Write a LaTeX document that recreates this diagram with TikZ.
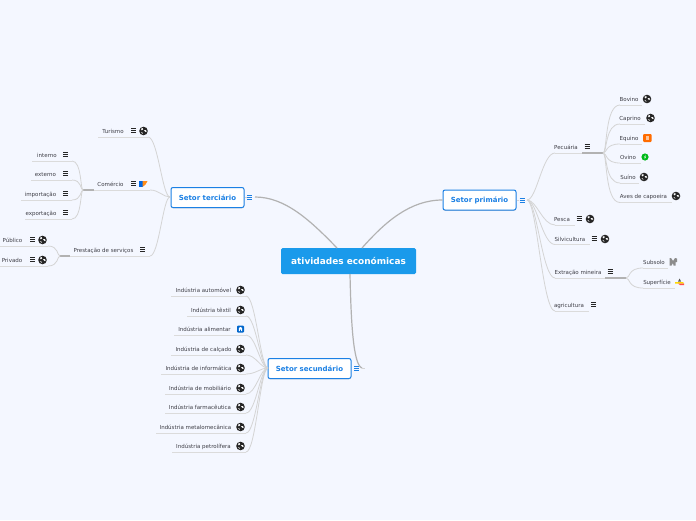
\documentclass[tikz,border=0pt]{standalone}
\usepackage{fontspec}
\setmainfont{DejaVu Sans}
\usetikzlibrary{calc,shadows}
\definecolor{paper}{HTML}{F4F7FF}
\definecolor{rootblue}{HTML}{1A9AEB}
\definecolor{boxblue}{HTML}{1B80E4}
\definecolor{leafgrey}{HTML}{3E3E46}
\tikzset{
  rootbox/.style={fill=rootblue,text=white,rounded corners=1.5pt,minimum width=135pt,minimum height=26pt,inner sep=0pt,font=\fontsize{8.95}{10}\selectfont\bfseries},
  sectorbox/.style={draw=boxblue,line width=1pt,fill=white,text=boxblue,rounded corners=2pt,minimum height=20pt,inner sep=0pt,font=\fontsize{7}{8}\selectfont\bfseries,drop shadow={shadow xshift=0pt,shadow yshift=-.8pt,opacity=.35}},
  leaf/.style={text=leafgrey,inner sep=0pt,yshift=-.5pt,font=\fontsize{5.5}{6}\selectfont},
  mainlink/.style={draw=black!30,line width=1.2pt},
  link/.style={draw=black!17,line width=.8pt},
  rule/.style={draw=black!14,line width=.8pt},
  stub/.style={draw=black!30,line width=1.2pt},
  pics/globeicon/.style={code={
    \fill[black!85] (0,0) circle(4.3pt);
    \fill[white] (-2.6,-2.2) .. controls (-1,-3.6) and (.3,-3) .. (-.4,-1.5) .. controls (-1,-.4) and (-2.8,-.2) .. cycle;
    \fill[white] (.6,-.8) .. controls (2,-1.4) and (3.2,-.6) .. (3.3,.6) .. controls (2.4,1.4) and (1,.8) .. cycle;
    \fill[white] (-2.4,1.2) .. controls (-1.4,.8) and (-.6,1.6) .. (-.6,3) .. controls (-1.6,3) and (-2.2,2.2) .. cycle;
  }},
  pics/menuicon/.style={code={
    \foreach \k in {-1.9,0,1.9} \draw[line width=.8pt,pic actions] (-2.5,\k)--(2.5,\k);
  }},
}
% text, centre, baseline level, rule ends
\newcommand{\leafnode}[6]{%
  \node[leaf] (#1) at (#3,#4) {#2};
  \coordinate (#1-a) at (#5,#4+6);
  \coordinate (#1-b) at (#6,#4+6);
  \draw[rule] (#1-a)--(#1-b);
}
\begin{document}
\begin{tikzpicture}[x=1pt,y=-1pt]
\useasboundingbox (0,0) rectangle (696,520);
\fill[paper] (0,0) rectangle (696,520);

\node[rootbox] (root) at (348.5,261) {atividades económicas};
\node[sectorbox,minimum width=73pt] (primario) at (479.5,200) {Setor primário};
\node[sectorbox,minimum width=73pt] (terciario) at (207.5,197.5) {Setor terciário};
\node[sectorbox,minimum width=83pt] (secundario) at (309.5,368.5) {Setor secundário};
\coordinate (root-p) at (362,248);
\coordinate (root-t) at (337,248);
\coordinate (root-s) at (350,274);
\coordinate (primario-out) at (527,200);
\coordinate (terciario-out) at (255,197);
\coordinate (terciario-in) at (170,197);
\coordinate (secundario-out) at (362,368);
\coordinate (secundario-in) at (268,368);

\draw[mainlink] (root-p) .. controls (385,222) and (410,200) .. (primario.west);
\draw[mainlink] (root-t) .. controls (310,220) and (285,197) .. (terciario-out);
\draw[mainlink] (root-s) .. controls (351,320) and (353,365) .. (secundario-out);
\draw[link] (secundario-out)--++(3,0);
\draw[link] (primario.east)--++(2.5,0);
\draw[link] (terciario.east)--++(2,0);

% primario
\leafnode{pecuaria}{Pecuária}{566}{147}{555}{603}
\leafnode{bovino}{Bovino}{629}{99}{620}{642}
\leafnode{caprino}{Caprino}{630}{118}{620}{645}
\leafnode{equino}{Equino}{629}{138}{620}{642}
\leafnode{ovino}{Ovino}{628}{157}{620}{641}
\leafnode{suino}{Suíno}{628}{177}{620}{639}
\leafnode{aves}{Aves de capoeira}{643.5}{196.5}{620}{672}
\leafnode{pesca}{Pesca}{562}{219}{555}{575}
\leafnode{silvicultura}{Silvicultura}{570}{238.5}{555}{590}
\leafnode{extracao}{Extração mineira}{578}{272}{555}{626}
\leafnode{subsolo}{Subsolo}{654}{262}{643}{668}
\leafnode{superficie}{Superfície}{657}{282}{643}{675}
\leafnode{agricultura}{agricultura}{569}{305}{555}{589}
% terciario
\leafnode{turismo}{Turismo}{113}{131}{98}{148}
\leafnode{comercio}{Comércio}{110.5}{184}{83}{150}
\leafnode{interno}{interno}{47}{155}{32}{72}
\leafnode{externo}{externo}{45.5}{174}{31}{72}
\leafnode{importacao}{importação}{40.5}{194}{21}{72}
\leafnode{exportacao}{exportação}{41}{213}{25}{72}
\leafnode{prestacao}{Prestação de serviços}{103.5}{250}{60}{150}
\leafnode{publico}{Público}{12.5}{240}{0}{48}
\leafnode{privado}{Privado}{12}{260}{0}{48}
% secundario
\leafnode{automovel}{Indústria automóvel}{203.5}{290}{171}{246}
\leafnode{textil}{Indústria têxtil}{211}{310}{187}{246}
\leafnode{alimentar}{Indústria alimentar}{204.5}{329}{174}{246}
\leafnode{calcado}{Indústria de calçado}{203.5}{349}{171}{246}
\leafnode{informatica}{Indústria de informática}{198.5}{368}{161}{246}
\leafnode{mobiliario}{Indústria de mobiliário}{200}{388}{165}{246}
\leafnode{farmaceutica}{Indústria farmacêutica}{200}{407}{165}{246}
\leafnode{metalo}{Indústria metalomecânica}{195.5}{427}{156}{246}
\leafnode{petrolifera}{Indústria petrolífera}{203.5}{446}{172}{246}

\draw[stub] (582,153)--(pecuaria-b);
\draw[stub] (605,278)--(extracao-b);
\draw[stub] (comercio-a)--(94,190);
\draw[stub] (prestacao-a)--(70,256);

% wide fans
\foreach \src/\dst in {primario-out/pecuaria-a,primario-out/pesca-a,primario-out/silvicultura-a,primario-out/extracao-a,primario-out/agricultura-a,
  terciario-in/turismo-b,terciario-in/comercio-b,terciario-in/prestacao-b,
  secundario-in/automovel-b,secundario-in/textil-b,secundario-in/alimentar-b,secundario-in/calcado-b,secundario-in/informatica-b,secundario-in/mobiliario-b,secundario-in/farmaceutica-b,secundario-in/metalo-b,secundario-in/petrolifera-b}
  \draw[link] (\src) .. controls ($(\src)!.35!(\dst|-\src)$) and ($(\src|-\dst)!.55!(\dst)$) .. (\dst);
% tight fans
\foreach \src/\dst in {pecuaria-b/bovino-a,pecuaria-b/caprino-a,pecuaria-b/equino-a,pecuaria-b/ovino-a,pecuaria-b/suino-a,pecuaria-b/aves-a,
  extracao-b/subsolo-a,extracao-b/superficie-a,
  comercio-a/interno-b,comercio-a/externo-b,comercio-a/importacao-b,comercio-a/exportacao-b,
  prestacao-a/publico-b,prestacao-a/privado-b}
  \draw[link] (\src) .. controls ($(\src)!.25!(\dst|-\src)$) and ($(\src|-\dst)!.1!(\dst)$) .. (\dst);

% icons
\foreach \p in {(647,99),(650.5,118),(644,177),(676,196),(590,219),(605,239),(143.5,131),(42.5,240),(42.5,260),
  (240.5,290),(240.5,310),(240.5,349),(240.5,368),(240.5,388),(240.5,407),(240.5,427),(240.5,446)}
  \pic at \p {globeicon};
\foreach \p in {(587,146.5),(579,218),(594,238),(610,271),(593.5,304),(133.5,130),(133.5,183),(65.5,154),(65.5,173),(65.5,193),(65.5,212),(142.5,249),(32.5,239),(32.5,259)}
  \pic[black!85] at \p {menuicon};
\pic[boxblue] at (522,200) {menuicon};
\pic[boxblue] at (249.5,197) {menuicon};
\pic[boxblue] at (356.5,368) {menuicon};

% small picture icons
\fill[orange!85!red,rounded corners=1pt] (643,134) rectangle (651.5,142);
\fill[white,opacity=.6] (645.5,136) rectangle (649,140);
\fill[green!70!black!90!cyan] (645,157) circle(3.6pt);
\fill[white] (645.6,154.8)--(644,157.4)--(645.2,157.4)--(644.5,159.3)--(646.2,156.6)--(645,156.6)--cycle;
\fill[blue!55!cyan!90!black] (139,181)rectangle(142.5,187);
\fill[orange!90] (142.5,181)--(147.5,181)--(145.5,184.5)--(142.5,187)--cycle;
\fill[blue!50!cyan!80!black,rounded corners=1pt] (237,325.5) rectangle (244,332.5);
\fill[white] (238.8,331)--(238.8,328)--(240.5,327)--(242.2,328)--(242.2,331)--(241.2,331)--(241.2,329.5)--(239.8,329.5)--(239.8,331)--cycle;
\fill[black!45] (669.5,265.5)--(669.5,258)--(671,258)--(673,261)--(675,258)--(677,258.5)--(677,262)--(675.5,262)--(675.5,265.5)--(673.5,265.5)--(673,263)--(671.5,265.5)--cycle;
\fill[black!65] (679.5,278.5)--(681,281.5)--(678,281.5)--cycle;
\fill[yellow!75!orange] (675,282)--(683,282)--(684,283.5)--(675,283.5)--cycle;
\fill[red!70] (678,283.5)--(684,283.5)--(684,285)--(680,285)--cycle;
\end{tikzpicture}
\end{document}
